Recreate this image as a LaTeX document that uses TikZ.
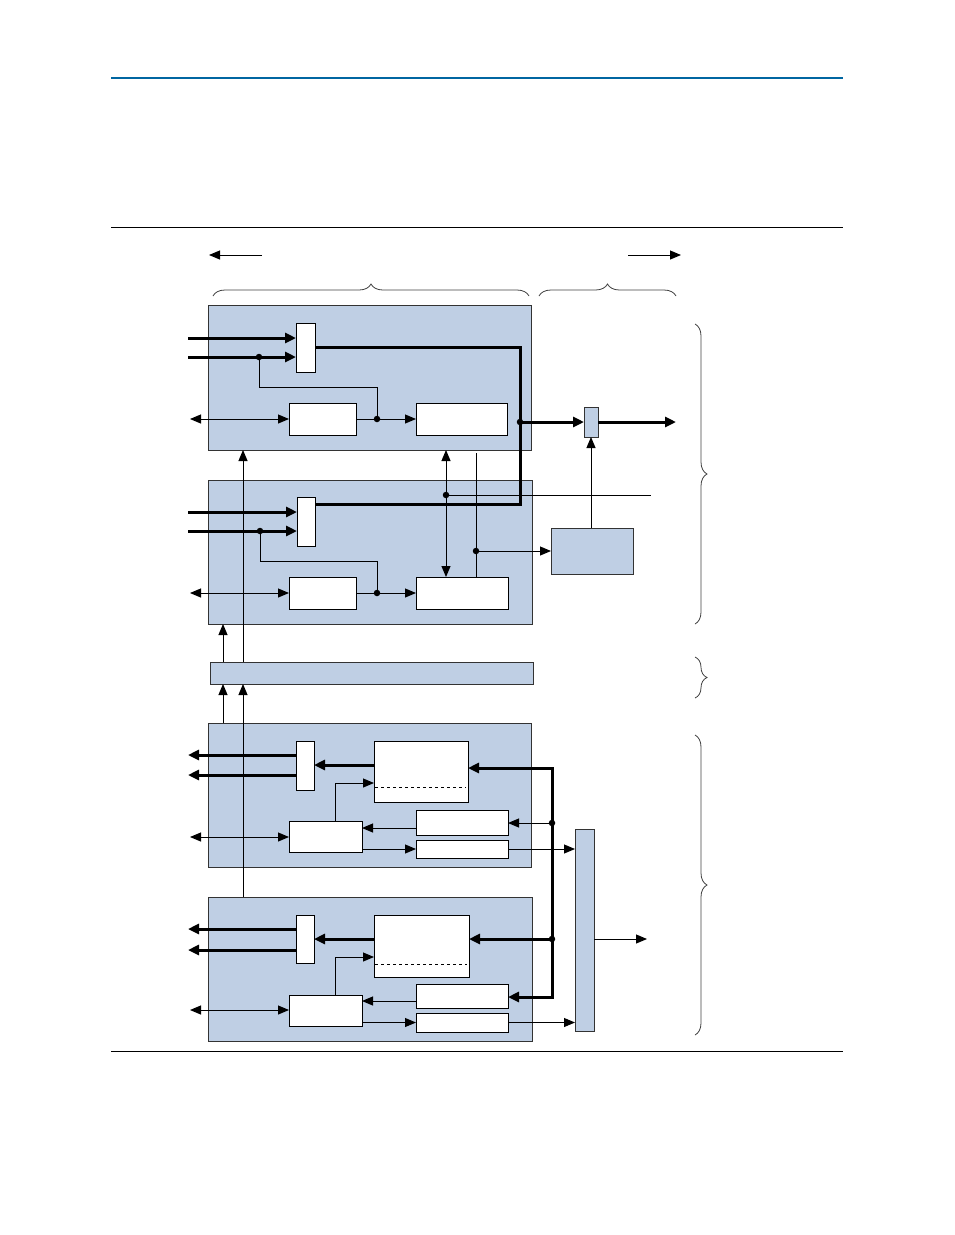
\documentclass[tikz,border=0pt]{standalone}
\usetikzlibrary{arrows.meta,decorations.pathreplacing}

\definecolor{blockblue}{RGB}{191,207,228}
\definecolor{rulecol}{RGB}{0,102,161}

\tikzset{
  blk/.style={draw=black!80, fill=blockblue, line width=1pt, inner sep=0pt, outer sep=0pt, anchor=north west},
  wbox/.style={draw=black, fill=white, line width=1pt, inner sep=0pt, outer sep=0pt, anchor=north west},
  wire/.style={line width=1pt},
  sig/.style={line width=1pt, -{Triangle[length=11pt,width=9pt]}},
  bidir/.style={line width=1pt, {Triangle[length=11pt,width=9pt]}-{Triangle[length=11pt,width=9pt]}},
  bus/.style={line width=3pt, -{Triangle[length=11pt,width=10pt]}},
  busline/.style={line width=3pt},
  bibus/.style={line width=3pt, {Triangle[length=11pt,width=10pt]}-{Triangle[length=11pt,width=10pt]}},
  brc/.style={decorate, decoration={brace, amplitude=12pt}, draw=black!75, line width=0.8pt},
  dot/.style={circle, fill=black, inner sep=0pt, minimum size=6.5pt}
}

\begin{document}
\begin{tikzpicture}[x=1pt, y=-1pt]
  \useasboundingbox (0,0) rectangle (954,1235);

  % page rules
  \draw[rulecol, line width=2pt] (111,78) -- (843,78);
  \draw[line width=1pt] (111,227) -- (843,227);
  \draw[line width=1pt] (111,1051) -- (843,1051);

  % direction arrows and braces on top
  \draw[sig] (262,255) -- (209,255);
  \draw[sig] (628,255) -- (681,255);
  \draw[brc] (213,296) -- (529,296);
  \draw[brc] (539,296) -- (676,296);

  % braces on the right
  \draw[brc] (695,324) -- (695,624);
  \draw[brc] (695,657) -- (695,698);
  \draw[brc] (695,735) -- (695,1035);

  % blocks
  \node[blk, minimum width=323pt, minimum height=145pt] (blkA) at (208,305) {};
  \node[blk, minimum width=324pt, minimum height=144pt] (blkB) at (208,480) {};
  \node[blk, minimum width=323pt, minimum height=22pt] (busbar) at (210,662) {};
  \node[blk, minimum width=323pt, minimum height=144pt] (blkC) at (208,723) {};
  \node[blk, minimum width=324pt, minimum height=144pt] (blkD) at (208,897) {};

  % right side parts
  \node[blk, minimum width=14pt, minimum height=30pt] (selA) at (584,407) {};
  \node[blk, minimum width=82pt, minimum height=46pt] (pll) at (551,528) {};
  \node[blk, minimum width=19pt, minimum height=202pt] (collect) at (575,829) {};

  % top block
  \node[wbox, minimum width=19pt, minimum height=49pt] (muxA) at (296,323) {};
  \node[wbox, minimum width=67pt, minimum height=32pt] (regA) at (289,403) {};
  \node[wbox, minimum width=91pt, minimum height=32pt] (ctlA) at (416,403) {};
  \coordinate (inA1) at (188,338);
  \coordinate (inA2) at (188,357);
  \coordinate (tapA) at (259,357);
  \coordinate (jA) at (377,419);
  \coordinate (ioA) at (190,419);
  \draw[bus] (inA1) -- (inA1 -| muxA.west);
  \draw[bus] (inA2) -- (inA2 -| muxA.west);
  \draw[wire] (tapA) -- (259,387) -| (jA);
  \draw[bidir] (ioA) -- (regA.west);
  \draw[sig] (regA.east) -- (ctlA.west);
  \node[dot] at (tapA) {};
  \node[dot] at (jA) {};

  % second block
  \node[wbox, minimum width=18pt, minimum height=49pt] (muxB) at (297,497) {};
  \node[wbox, minimum width=67pt, minimum height=32pt] (regB) at (289,577) {};
  \node[wbox, minimum width=92pt, minimum height=32pt] (ctlB) at (416,577) {};
  \coordinate (inB1) at (188,512);
  \coordinate (inB2) at (188,531);
  \coordinate (tapB) at (260,531);
  \coordinate (jB) at (377,593);
  \coordinate (ioB) at (190,593);
  \draw[bus] (inB1) -- (inB1 -| muxB.west);
  \draw[bus] (inB2) -- (inB2 -| muxB.west);
  \draw[wire] (tapB) -- (260,561) -| (jB);
  \draw[bidir] (ioB) -- (regB.west);
  \draw[sig] (regB.east) -- (ctlB.west);
  \node[dot] at (tapB) {};
  \node[dot] at (jB) {};

  % thick line joining both muxes
  \coordinate (bendA) at (520,347);
  \coordinate (bendB) at (520,504);
  \draw[busline] (muxA.east |- bendA) -- (bendA) -- (bendB) -- (bendB -| muxB.east);
  \coordinate (tapS) at (520,422);
  \coordinate (outS) at (676,422);
  \draw[bus] (tapS) -- (selA.west);
  \draw[bus] (selA.east) -- (outS);
  \node[dot] at (tapS) {};
  \draw[sig] (selA.south |- pll.north) -- (selA.south);

  % lines between top blocks
  \coordinate (tapV) at (446,495);
  \coordinate (endV) at (651,495);
  \draw[wire] (tapV) -- (endV);
  \draw[bidir] (blkA.south -| tapV) -- (ctlB.north -| tapV);
  \node[dot] at (tapV) {};
  \coordinate (colT) at (476,453);
  \coordinate (tapP) at (476,551);
  \draw[wire] (colT) -- (ctlB.north -| colT);
  \draw[sig] (tapP) -- (pll.west);
  \node[dot] at (tapP) {};

  % vertical links through the bar
  \coordinate (colL) at (223,0);
  \coordinate (colR) at (243,0);
  \draw[sig] (blkC.north -| colL) -- (busbar.south -| colL);
  \draw[sig] (blkD.north -| colR) -- (busbar.south -| colR);
  \draw[sig] (busbar.north -| colL) -- (blkB.south -| colL);
  \draw[sig] (busbar.north -| colR) -- (blkA.south -| colR);

  % third block
  \node[wbox, minimum width=18pt, minimum height=49pt] (muxC) at (296,741) {};
  \node[wbox, minimum width=94pt, minimum height=61pt] (fifoC) at (374,741) {};
  \node[wbox, minimum width=73pt, minimum height=31pt] (regC) at (289,821) {};
  \node[wbox, minimum width=92pt, minimum height=25pt] (stC) at (416,810) {};
  \node[wbox, minimum width=92pt, minimum height=18pt] (flgC) at (416,840) {};
  \draw[dashed, line width=0.8pt] (375,787) -- (466,787);
  \coordinate (outC1) at (188,755);
  \coordinate (outC2) at (188,775);
  \coordinate (dC) at (374,765);
  \coordinate (eC) at (416,828);
  \coordinate (upC) at (335,783);
  \coordinate (ioC) at (190,837);
  \draw[bus] (muxC.west |- outC1) -- (outC1);
  \draw[bus] (muxC.west |- outC2) -- (outC2);
  \draw[bus] (dC) -- (dC -| muxC.east);
  \draw[sig] (eC) -- (eC -| regC.east);
  \draw[sig] (upC |- regC.north) -- (upC) -- (upC -| fifoC.west);
  \draw[bidir] (ioC) -- (ioC -| regC.west);
  \draw[sig] (regC.east |- flgC.west) -- (flgC.west);
  \draw[sig] (flgC.east) -- (flgC.east -| collect.west);

  % fourth block
  \node[wbox, minimum width=18pt, minimum height=48pt] (muxD) at (296,915) {};
  \node[wbox, minimum width=95pt, minimum height=62pt] (fifoD) at (374,915) {};
  \node[wbox, minimum width=73pt, minimum height=31pt] (regD) at (289,995) {};
  \node[wbox, minimum width=92pt, minimum height=24pt] (stD) at (416,984) {};
  \node[wbox, minimum width=92pt, minimum height=19pt] (flgD) at (416,1013) {};
  \draw[dashed, line width=0.8pt] (375,964) -- (467,964);
  \coordinate (outD1) at (188,929);
  \coordinate (outD2) at (188,950);
  \coordinate (dD) at (374,939);
  \coordinate (eD) at (416,1001);
  \coordinate (upD) at (335,957);
  \coordinate (ioD) at (190,1010);
  \draw[bus] (muxD.west |- outD1) -- (outD1);
  \draw[bus] (muxD.west |- outD2) -- (outD2);
  \draw[bus] (dD) -- (dD -| muxD.east);
  \draw[sig] (eD) -- (eD -| regD.east);
  \draw[sig] (upD |- regD.north) -- (upD) -- (upD -| fifoD.west);
  \draw[bidir] (ioD) -- (ioD -| regD.west);
  \draw[sig] (regD.east |- flgD.west) -- (flgD.west);
  \draw[sig] (flgD.east) -- (flgD.east -| collect.west);

  % thick bus on the right of the lower blocks
  \coordinate (busTop) at (552,768);
  \coordinate (busBot) at (552,997);
  \coordinate (tapE) at (552,823);
  \coordinate (tapF) at (552,939);
  \coordinate (outG) at (647,939);
  \draw[bibus] (busTop -| fifoC.east) -- (busTop) -- (busBot) -- (busBot -| stD.east);
  \draw[sig] (tapE) -- (tapE -| stC.east);
  \draw[bus] (tapF) -- (tapF -| fifoD.east);
  \node[dot] at (tapE) {};
  \node[dot] at (tapF) {};
  \draw[sig] (collect.east |- outG) -- (outG);

\end{tikzpicture}
\end{document}
